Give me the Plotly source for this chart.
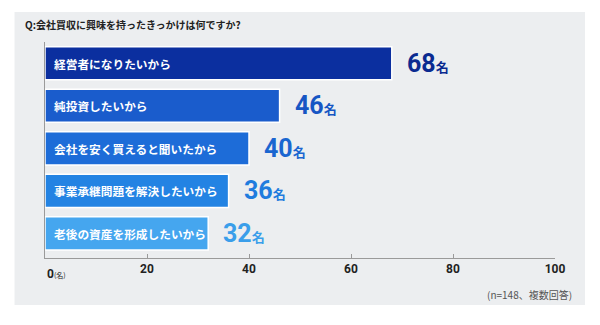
import plotly.graph_objects as go

categories = ["経営者になりたいから", "純投資したいから", "会社を安く買えると聞いたから",
              "事業承継問題を解決したいから", "老後の資産を形成したいから"]
values = [68, 46, 40, 36, 32]
bar_colors = ["#0b2f9f", "#1a5ccc", "#1d6cd8", "#2383e3", "#45a6ef"]
label_colors = ["#0a2a90", "#1656c4", "#1a66d0", "#1f7cde", "#3a9eea"]
tick_vals = [0, 20, 40, 60, 80, 100]
tick_text = ["", "20", "40", "60", "80", "100"]
title_text = "Q:会社買収に興味を持ったきっかけは何ですか?"
note_text = "(n=148、複数回答)"

W, H = 600, 325
L, R, T, B = 44.5, 45, 42, 67
pw, ph = W - L - R, H - T - B

def px_x(x):
    return (x - L) / pw

def px_y(y):
    return (H - B - y) / ph

JP = "Noto Sans CJK JP"
NUM = "Roboto"

ypos = list(range(len(categories)))

fig = go.Figure()
fig.add_trace(go.Bar(
    x=values, y=ypos, orientation="h",
    marker=dict(color=bar_colors, line=dict(color="white", width=1.5)),
    width=0.78, hoverinfo="skip",
))

annotations = []
for i, (c, v, lc) in enumerate(zip(categories, values, label_colors)):
    annotations.append(dict(
        x=0, y=i, xref="x", yref="y", xanchor="left", yanchor="middle",
        xshift=7, text=c, showarrow=False,
        font=dict(family=JP, size=11.7, color="white", weight="bold"),
    ))
    annotations.append(dict(
        x=v, y=i, xref="x", yref="y", xanchor="left", yanchor="middle",
        xshift=13, yshift=0,
        text=f"<b>{v}</b><span style='font-size:13px;font-family:{JP}'><b>名</b></span>",
        showarrow=False,
        font=dict(family=NUM, size=25, color=lc),
    ))

annotations.append(dict(
    x=0, y=0, xref="x", yref="paper", xanchor="left", yanchor="top",
    yshift=-7, showarrow=False,
    text="<b>0</b><span style='font-size:7px;font-family:Noto Sans CJK JP'>(名)</span>",
    font=dict(family=NUM, size=12, color="#222222"),
))
annotations.append(dict(
    x=px_x(22), y=px_y(24), xref="paper", yref="paper", xanchor="left", yanchor="middle",
    text=title_text, showarrow=False,
    font=dict(family=JP, size=10, color="#222222", weight="bold"),
))
annotations.append(dict(
    x=px_x(574), y=px_y(294.5), xref="paper", yref="paper", xanchor="right", yanchor="middle",
    text=note_text, showarrow=False,
    font=dict(family=JP, size=10, color="#555555"),
))

fig.update_layout(
    width=W, height=H,
    margin=dict(l=L, r=R, t=T, b=B),
    paper_bgcolor="white",
    plot_bgcolor="rgba(0,0,0,0)",
    showlegend=False,
    annotations=annotations,
    shapes=[dict(
        type="rect", xref="paper", yref="paper", layer="below",
        x0=px_x(14), x1=px_x(585), y0=px_y(305), y1=px_y(12),
        fillcolor="#eceef0", line=dict(width=0),
    )],
    xaxis=dict(
        range=[0, 100], tickvals=tick_vals, ticktext=tick_text,
        showline=True, linecolor="#9a9a9a", linewidth=1,
        ticks="inside", ticklen=4, tickcolor="#9a9a9a",
        showgrid=False, zeroline=False, fixedrange=True,
        tickfont=dict(family=NUM, size=12, color="#222222", weight="bold"),
    ),
    yaxis=dict(
        range=[4.58, -0.5], showticklabels=False,
        showline=True, linecolor="#9a9a9a", linewidth=1,
        showgrid=False, zeroline=False, ticks="", fixedrange=True,
    ),
)

fig.write_html("out.html", config={"displayModeBar": False})
